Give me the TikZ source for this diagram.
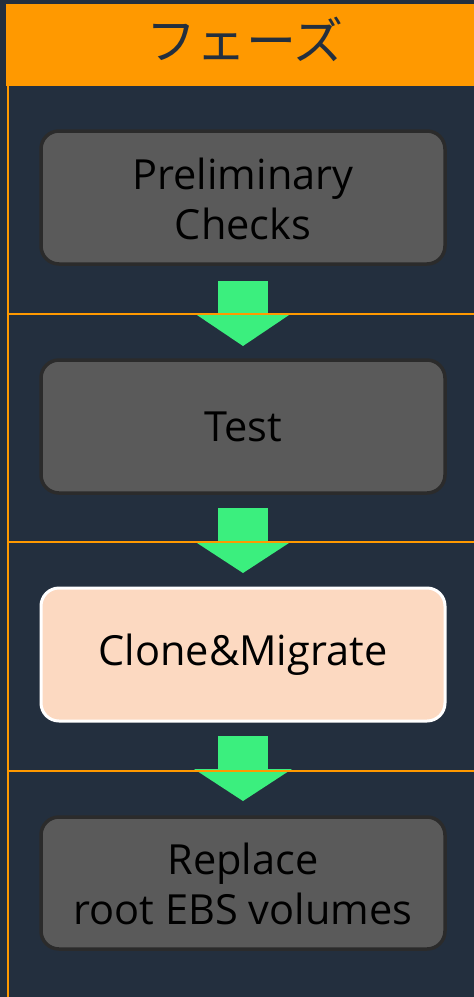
\documentclass[tikz,border=0pt]{standalone}
\usepackage{fontspec}
\setmainfont{Open Sans}
\newfontfamily\cjk{Noto Sans CJK JP}
\definecolor{bgnavy}{HTML}{232F3E}
\definecolor{aworange}{HTML}{FF9900}
\definecolor{boxgray}{HTML}{5A5A5A}
\definecolor{boxedge}{HTML}{2B2B2B}
\definecolor{peach}{HTML}{FCD9C1}
\definecolor{arrowgreen}{HTML}{3BEF7E}
\begin{document}
\begin{tikzpicture}[x=1pt,y=-1pt,
  phase/.style={rounded corners=18pt,line width=3.5pt,draw=boxedge,fill=boxgray},
  current/.style={rounded corners=18pt,line width=3pt,draw=white,fill=peach},
  label/.style={align=center,font=\fontsize{41.5}{50}\selectfont,text=black,inner sep=0pt},
  sep/.style={draw=aworange,line width=2.8pt},
  flow/.style={fill=arrowgreen,draw=none}]
\fill[bgnavy] (0,0) rectangle (474,997);
\useasboundingbox (0,0) rectangle (474,997);
% header
\fill[aworange] (6,4) rectangle (474,86);
\node[font=\cjk\fontsize{50}{50}\selectfont,text=bgnavy,inner sep=0pt] (hdr) at (245,39) {フェーズ};
% left vertical line
\draw[aworange,line width=2.4pt] (8,86) -- (8,997);
% boxes
\draw[phase] (41,131) rectangle (445,264);
\node[label] (b1) at (243,199) {Preliminary\\Checks};
\draw[phase] (41,360) rectangle (445,493);
\node[label] (b2) at (243,427) {Test};
\draw[current] (41,588) rectangle (445,721);
\node[label] (b3) at (243,655) {Clone\&Migrate};
\draw[phase] (41,817) rectangle (445,949);
\node[label] (b4) at (243,884) {Replace\\root EBS volumes};
% arrows
\foreach \t/\b/\tip in {281/313/346, 508/541/573, 736/769/801}{
  \fill[flow] (218,\t) rectangle (268,\b+1);
  \fill[flow] (194,\b) -- (292,\b) -- (243,\tip) -- cycle;
}
% separators
\draw[sep] (8,314) -- (474,314);
\draw[sep] (8,542) -- (474,542);
\draw[sep] (8,771) -- (474,771);
\end{tikzpicture}
\end{document}
